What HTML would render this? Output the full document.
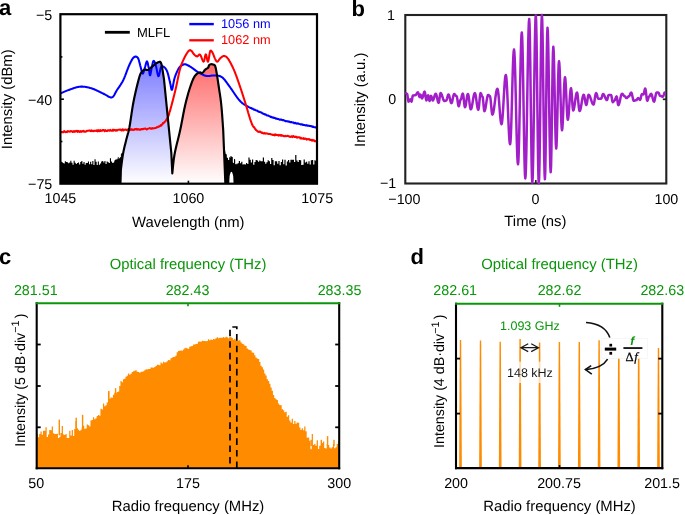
<!DOCTYPE html>
<html><head><meta charset="utf-8"><style>
html,body{margin:0;padding:0;background:#fff;}
svg{display:block;will-change:transform;}
text{font-family:"Liberation Sans", sans-serif;text-rendering:geometricPrecision;}
</style></head><body>
<svg width="685" height="515" viewBox="0 0 685 515">
<rect width="685" height="515" fill="#fff"/>
<defs>
<linearGradient id="gb" x1="0" y1="61" x2="0" y2="184" gradientUnits="userSpaceOnUse"><stop offset="0" stop-color="#7c7cff"/><stop offset="1" stop-color="#ffffff"/></linearGradient>
<linearGradient id="gr" x1="0" y1="64" x2="0" y2="184" gradientUnits="userSpaceOnUse"><stop offset="0" stop-color="#ff6a6a"/><stop offset="1" stop-color="#ffffff"/></linearGradient>
<clipPath id="ca"><rect x="60.4" y="14.2" width="256.6" height="169.5"/></clipPath>
</defs>
<g clip-path="url(#ca)">
<path d="M120.3 184 L120.7 171.3 L121 168.89 L121.41 165.47 L121.9 161.51 L122.45 157.53 L123 154 L123.58 150.97 L124.22 148.1 L124.88 145.34 L125.55 142.66 L126.2 140 L126.84 137.55 L127.47 135.33 L128.1 133.08 L128.74 130.52 L129.4 127.4 L130.08 123.46 L130.77 118.89 L131.48 114.04 L132.19 109.29 L132.9 105 L133.62 101.18 L134.35 97.58 L135.08 94.19 L135.8 91 L136.5 88 L137.18 85.14 L137.87 82.41 L138.53 79.91 L139.14 77.72 L139.7 75.9 L140.16 74.57 L140.54 73.68 L140.89 73.06 L141.26 72.55 L141.7 72 L142.21 71.38 L142.77 70.8 L143.36 70.29 L143.97 69.88 L144.6 69.6 L145.26 69.54 L145.97 69.67 L146.69 69.87 L147.38 70.02 L148 70 L148.54 69.78 L149.01 69.43 L149.45 69.01 L149.9 68.55 L150.4 68.1 L150.96 67.65 L151.55 67.16 L152.15 66.66 L152.74 66.16 L153.3 65.7 L153.81 65.26 L154.29 64.84 L154.76 64.44 L155.22 64.06 L155.7 63.7 L156.2 63.37 L156.72 63.05 L157.24 62.77 L157.74 62.51 L158.2 62.3 L158.63 62.11 L159.05 61.94 L159.43 61.81 L159.79 61.76 L160.1 61.8 L160.36 61.94 L160.57 62.16 L160.75 62.47 L160.92 62.85 L161.1 63.3 L161.27 63.71 L161.41 64.08 L161.57 64.59 L161.75 65.4 L162 66.7 L162.36 68.83 L162.82 71.68 L163.29 74.73 L163.71 77.44 L164 79.3 L171.3 152.9 L172.3 173.4 L172.3 184 L121.2 184 Z" fill="url(#gb)"/>
<path d="M172.3 173.4 L172.56 170.84 L172.9 167.26 L173.33 163.02 L173.89 158.48 L174.6 154 L175.52 149.51 L176.63 144.78 L177.84 139.89 L179.07 134.94 L180.2 130 L181.24 124.95 L182.24 119.74 L183.23 114.54 L184.21 109.57 L185.2 105 L186.21 100.83 L187.23 96.94 L188.24 93.33 L189.24 90.01 L190.2 87 L191.11 84.3 L191.98 81.91 L192.84 79.8 L193.7 77.97 L194.6 76.4 L195.56 75.12 L196.58 74.15 L197.6 73.42 L198.56 72.89 L199.4 72.5 L200.1 72.38 L200.7 72.57 L201.23 72.87 L201.75 73.08 L202.3 73 L202.88 72.55 L203.46 71.85 L204.03 71.05 L204.61 70.25 L205.2 69.6 L205.83 69.12 L206.49 68.72 L207.15 68.36 L207.73 68 L208.2 67.6 L208.5 67.12 L208.66 66.6 L208.76 66.08 L208.88 65.6 L209.1 65.2 L209.42 64.89 L209.8 64.63 L210.22 64.42 L210.66 64.28 L211.1 64.2 L211.57 64.2 L212.07 64.27 L212.59 64.39 L213.07 64.54 L213.5 64.7 L213.86 64.79 L214.17 64.83 L214.45 64.93 L214.72 65.18 L215 65.7 L215.27 66.4 L215.52 67.21 L215.77 68.25 L216.06 69.64 L216.4 71.5 L216.81 73.94 L217.28 76.88 L217.78 80.15 L218.3 83.58 L218.8 87 L219.3 90.33 L219.82 93.68 L220.34 97.18 L220.84 100.91 L221.3 105 L221.75 109.95 L222.19 115.7 L222.61 121.46 L222.95 126.49 L223.2 130 L225.3 182.5 L225.6 184 L172.3 184 Z" fill="url(#gr)"/>
<path d="M60.4 93.4 L61.43 92.96 L62.14 92.66 L62.85 92.35 L63.41 92.11 L63.97 91.87 L64.53 91.63 L65.14 91.38 L65.75 91.12 L66.36 90.87 L66.98 90.63 L67.6 90.38 L68.23 90.14 L68.82 89.92 L69.41 89.71 L70 89.5 L70.57 89.3 L71.14 89.1 L71.71 88.9 L72.3 88.7 L72.88 88.49 L73.46 88.28 L74.06 88.08 L74.65 87.89 L75.24 87.69 L75.85 87.52 L76.45 87.35 L77.05 87.17 L77.66 87.05 L78.26 86.92 L78.87 86.79 L79.48 86.73 L80.09 86.66 L80.7 86.6 L81.31 86.6 L81.93 86.6 L82.54 86.6 L83.16 86.65 L83.78 86.7 L84.4 86.74 L85.02 86.84 L85.64 86.93 L86.27 87.02 L86.9 87.16 L87.53 87.29 L88.16 87.42 L88.8 87.59 L89.43 87.75 L90.07 87.92 L90.71 88.11 L91.36 88.31 L92 88.5 L92.67 88.74 L93.34 88.99 L94.01 89.23 L94.7 89.54 L95.4 89.84 L96.1 90.14 L96.8 90.48 L97.51 90.82 L98.21 91.16 L98.9 91.5 L99.59 91.84 L100.28 92.19 L100.93 92.51 L101.58 92.84 L102.23 93.16 L102.82 93.44 L103.41 93.72 L104 94 L104.79 94.41 L105.59 94.81 L106.31 95.25 L107.04 95.69 L107.71 96.1 L108.38 96.51 L109 96.83 L109.63 97.14 L110.21 97.31 L110.79 97.48 L111.9 97.4 L112.9 96.82 L113.33 96.32 L113.77 95.82 L114.16 95.17 L114.56 94.52 L114.94 93.78 L115.32 93.04 L115.72 92.26 L116.12 91.49 L116.56 90.75 L117 90 L117.49 89.28 L117.98 88.56 L118.32 88.07 L118.67 87.57 L119.01 87.08 L119.37 86.57 L119.73 86.05 L120.08 85.54 L120.44 84.99 L120.79 84.45 L121.15 83.91 L121.5 83.33 L121.85 82.75 L122.2 82.17 L122.53 81.55 L122.87 80.92 L123.2 80.3 L123.52 79.6 L123.84 78.9 L124.16 78.19 L124.4 77.61 L124.64 77.02 L124.87 76.43 L125.11 75.85 L125.34 75.23 L125.57 74.62 L125.81 74.01 L126.04 73.39 L126.26 72.79 L126.49 72.18 L126.71 71.57 L126.93 70.96 L127.15 70.39 L127.36 69.83 L127.58 69.26 L127.79 68.69 L128.06 68.03 L128.33 67.36 L128.6 66.7 L128.85 66.12 L129.11 65.55 L129.36 64.97 L129.71 64.19 L130.07 63.4 L130.41 62.69 L130.74 61.98 L131.06 61.35 L131.39 60.72 L131.69 60.17 L132 59.63 L132.6 58.7 L133.17 57.96 L133.72 57.41 L134.24 57.02 L134.74 56.77 L135.22 56.64 L135.7 56.6 L136.17 56.64 L136.62 56.77 L137.06 57.03 L137.48 57.41 L137.9 57.97 L138.3 58.7 L138.69 59.69 L138.88 60.31 L139.06 60.94 L139.24 61.64 L139.43 62.34 L139.6 63.08 L139.78 63.82 L139.96 64.54 L140.14 65.27 L140.32 65.93 L140.5 66.6 L140.68 67.29 L140.87 67.97 L141.05 68.73 L141.23 69.49 L141.42 70.23 L141.6 70.97 L141.78 71.62 L141.97 72.27 L142.33 73.2 L142.7 73.6 L143.07 73.34 L143.44 72.54 L143.62 71.95 L143.81 71.37 L143.99 70.69 L144.17 70.02 L144.36 69.34 L144.54 68.67 L144.72 68.08 L144.9 67.5 L145.08 66.92 L145.26 66.33 L145.44 65.66 L145.62 64.98 L145.8 64.31 L145.98 63.63 L146.15 63.05 L146.33 62.46 L146.67 61.66 L147 61.4 L147.32 61.81 L147.64 62.77 L147.8 63.43 L147.95 64.09 L148.1 64.84 L148.25 65.59 L148.39 66.34 L148.53 67.09 L148.67 67.74 L148.8 68.4 L148.92 69.07 L149.04 69.74 L149.15 70.51 L149.25 71.29 L149.35 72.06 L149.45 72.83 L149.55 73.5 L149.65 74.16 L149.86 75.05 L150.1 75.3 L150.37 74.72 L150.52 74.08 L150.67 73.44 L150.82 72.59 L150.98 71.74 L151.08 71.11 L151.18 70.48 L151.29 69.86 L151.39 69.26 L151.5 68.66 L151.6 68.06 L151.75 67.33 L151.9 66.6 L152.04 65.98 L152.18 65.36 L152.32 64.73 L152.46 64.1 L152.59 63.52 L152.72 62.93 L153 61.94 L153.29 61.23 L153.6 60.9 L153.93 60.97 L154.28 61.38 L154.64 62.06 L155.02 62.98 L155.4 64.07 L155.6 64.69 L155.8 65.3 L156.01 66.13 L156.21 66.96 L156.36 67.69 L156.51 68.42 L156.65 69.14 L156.76 69.74 L156.88 70.33 L156.99 70.92 L157.1 71.51 L157.25 72.25 L157.4 72.98 L157.55 73.71 L157.77 74.55 L157.99 75.39 L158.4 76.2 L158.8 75.92 L159 75.35 L159.2 74.78 L159.39 73.95 L159.58 73.12 L159.7 72.51 L159.83 71.89 L159.95 71.28 L160.12 70.44 L160.29 69.59 L160.45 69 L160.6 68.4 L160.85 67.66 L161.03 67.11 L161.19 66.71 L161.37 66.44 L161.59 66.28 L161.9 66.2 L162.32 66.22 L162.82 66.36 L163.37 66.61 L163.94 66.96 L164.49 67.39 L165 67.9 L165.46 68.45 L165.9 69.06 L166.33 69.75 L166.75 70.56 L167.17 71.53 L167.39 72.12 L167.6 72.7 L167.82 73.43 L168.04 74.17 L168.19 74.75 L168.35 75.34 L168.5 75.92 L168.65 76.56 L168.8 77.2 L168.95 77.84 L169.1 78.48 L169.25 79.13 L169.39 79.78 L169.53 80.39 L169.67 81 L169.81 81.61 L170.01 82.4 L170.2 83.2 L170.37 83.97 L170.54 84.74 L170.68 85.55 L170.83 86.37 L170.96 87.13 L171.1 87.89 L171.24 88.5 L171.37 89.11 L171.66 89.81 L172 89.8 L172.37 88.88 L172.56 88.02 L172.74 87.16 L172.88 86.42 L173.01 85.67 L173.14 84.93 L173.25 84.32 L173.36 83.7 L173.47 83.09 L173.58 82.47 L173.7 81.87 L173.82 81.27 L173.94 80.67 L174.06 80.07 L174.24 79.38 L174.42 78.69 L174.6 78 L174.81 77.39 L175.01 76.78 L175.22 76.16 L175.45 75.55 L175.68 74.93 L175.91 74.32 L176.16 73.72 L176.41 73.12 L176.66 72.52 L176.91 71.97 L177.16 71.41 L177.42 70.85 L177.8 70.1 L178.18 69.35 L178.54 68.73 L178.9 68.1 L179.25 67.61 L179.61 67.12 L180.32 66.37 L181.03 65.79 L181.72 65.36 L182.38 65.01 L183 64.7 L183.54 64.45 L184 64.29 L184.44 64.22 L184.89 64.23 L185.39 64.33 L186 64.5 L186.7 64.75 L187.45 65.09 L188.26 65.5 L189.13 65.99 L190.08 66.56 L190.59 66.88 L191.1 67.2 L191.67 67.58 L192.23 67.97 L192.85 68.42 L193.47 68.87 L194.13 69.37 L194.78 69.86 L195.46 70.35 L196.13 70.85 L196.81 71.32 L197.48 71.78 L198.14 72.19 L198.8 72.6 L199.45 72.96 L200.09 73.33 L200.74 73.68 L201.39 74.03 L202.04 74.35 L202.69 74.67 L203.35 74.96 L204 75.24 L204.65 75.46 L205.3 75.69 L205.95 75.84 L206.6 76 L207.25 76.05 L207.9 76.1 L208.55 76.05 L209.2 76 L209.85 75.9 L210.51 75.79 L211.16 75.68 L211.81 75.56 L212.46 75.48 L213.11 75.4 L213.75 75.4 L214.4 75.4 L215.05 75.44 L215.69 75.49 L216.33 75.53 L216.98 75.57 L217.62 75.65 L218.26 75.73 L218.9 75.87 L219.54 76.02 L220.18 76.27 L220.82 76.52 L221.46 76.91 L222.1 77.3 L222.72 77.84 L223.35 78.38 L223.75 78.83 L224.16 79.28 L224.56 79.72 L224.97 80.24 L225.37 80.75 L225.77 81.27 L226.19 81.84 L226.6 82.41 L227.01 82.98 L227.45 83.59 L227.88 84.19 L228.31 84.8 L228.78 85.44 L229.24 86.07 L229.7 86.7 L230.08 87.23 L230.46 87.76 L230.84 88.28 L231.22 88.81 L231.62 89.41 L232.03 90.01 L232.44 90.61 L232.85 91.21 L233.19 91.71 L233.52 92.21 L233.86 92.71 L234.2 93.22 L234.54 93.72 L234.96 94.33 L235.38 94.95 L235.81 95.57 L236.23 96.18 L236.64 96.74 L237.05 97.31 L237.46 97.87 L237.87 98.43 L238.25 98.9 L238.63 99.37 L239.02 99.83 L239.4 100.3 L239.86 100.78 L240.31 101.26 L240.77 101.73 L241.38 102.3 L242 102.86 L242.59 103.31 L243.18 103.76 L243.79 104.16 L244.39 104.56 L245.05 104.95 L245.7 105.33 L246.45 105.77 L247.2 106.2 L247.76 106.51 L248.33 106.82 L248.89 107.12 L249.5 107.42 L250.1 107.7 L250.71 107.95 L251.35 108.1 L252 108.83 L252.64 108.61 L253.31 109.2 L253.98 109.73 L254.64 109.54 L255.33 110.12 L256.02 110.45 L256.71 110.41 L257.4 110.92 L258.1 111.42 L258.8 111.57 L259.51 112.06 L260.22 112.04 L260.93 112.41 L261.47 112.58 L262.02 113.07 L262.57 113.57 L263.11 113.62 L263.67 113.98 L264.23 114 L264.79 114.48 L265.35 114.34 L265.92 114.71 L266.5 115.18 L267.07 115.46 L267.64 115.53 L268.23 115.57 L268.82 115.91 L269.41 116.12 L269.99 116.4 L270.6 116.93 L271.2 116.78 L271.8 117.41 L272.4 117.63 L272.98 117.32 L273.56 117.71 L274.15 117.96 L274.73 117.87 L275.47 118.33 L276.21 118.84 L276.96 118.59 L277.72 119.08 L278.48 119 L279.24 119.48 L279.86 119.82 L280.49 119.56 L281.11 119.6 L281.73 119.8 L282.45 120.24 L283.17 120.09 L283.88 120.3 L284.6 120.72 L285.28 121.13 L285.96 120.98 L286.64 121.13 L287.32 121.43 L288 121.26 L288.63 121.69 L289.26 121.58 L289.88 121.98 L290.51 122.33 L291.14 121.93 L291.77 122.37 L292.39 122.54 L292.99 122.39 L293.58 122.59 L294.18 123.15 L294.77 123.28 L295.37 122.88 L295.96 123.35 L296.56 123.63 L297.15 123.33 L297.75 123.68 L298.38 123.47 L299.02 123.8 L299.66 124.11 L300.29 124.2 L300.93 124.44 L301.57 124.16 L302.2 124.45 L302.84 124.89 L303.48 124.86 L304.09 124.9 L304.7 125 L305.31 125.48 L305.92 125.36 L306.54 125.15 L307.15 125.74 L307.76 125.59 L308.37 125.78 L308.99 125.77 L309.57 126.03 L310.16 126.08 L310.75 126.06 L311.34 126.51 L311.93 126.31 L312.51 126.84 L313.1 126.51 L313.69 127.08 L314.35 127.24 L315.01 127.19 L315.68 127.45 L316.34 127.31 L317 127.74" fill="none" stroke="#0000ff" stroke-width="2.05" stroke-linejoin="round"/>
<path d="M60.4 131.95 L61.02 132.07 L61.64 132.12 L62.26 132.28 L62.88 132.02 L63.5 132.23 L64.19 131.14 L64.89 131.64 L65.58 132.2 L66.28 131.83 L66.98 132.11 L67.67 131.15 L68.3 131.56 L68.92 131.28 L69.55 131.62 L70.17 131.64 L70.8 130.95 L71.42 131.18 L72.05 131.24 L72.67 131.99 L73.29 131.79 L73.91 131.05 L74.53 131.8 L75.15 130.99 L75.77 131.55 L76.38 130.94 L77 130.78 L77.62 131.8 L78.24 130.99 L78.89 130.98 L79.54 131.88 L80.19 131.73 L80.84 131.02 L81.49 131.8 L82.15 131.28 L82.8 131.43 L83.45 130.84 L84.1 131.71 L84.75 131.39 L85.41 131.7 L86.07 131.59 L86.72 130.86 L87.38 130.91 L88.03 130.66 L88.69 130.61 L89.34 130.5 L90 130.76 L90.63 131.1 L91.27 130.36 L91.9 131.15 L92.54 130.73 L93.17 130.67 L93.8 131.26 L94.44 130.84 L95.07 130.62 L95.7 130.8 L96.34 131.04 L96.98 130.25 L97.62 131.33 L98.27 130.16 L98.91 131.02 L99.55 131.11 L100.19 130.1 L100.83 131 L101.48 130.47 L102.12 130.71 L102.76 130 L103.4 130.03 L104.02 130.17 L104.63 131.08 L105.24 130.14 L105.86 130.8 L106.47 130.98 L107.09 130.98 L107.7 130.24 L108.31 130.23 L108.93 130.42 L109.54 130.7 L110.15 129.88 L110.77 130.62 L111.37 130.66 L111.98 130.71 L112.58 129.71 L113.18 130.78 L113.78 129.73 L114.39 130.01 L114.99 130.31 L115.59 130.66 L116.2 129.94 L116.8 130.62 L117.4 130.15 L118.01 129.85 L118.62 129.83 L119.22 129.64 L119.83 129.5 L120.44 129.56 L121.05 130.19 L121.65 130.54 L122.26 129.51 L122.87 129.35 L123.48 130.46 L124.09 129.89 L124.69 129.72 L125.33 129.49 L125.96 129.89 L126.6 130.14 L127.23 129.67 L127.86 129.61 L128.5 129.14 L129.13 130.15 L129.77 129.06 L130.4 129.59 L131.07 129.98 L131.75 129.1 L132.42 129.79 L133.09 130.02 L133.77 129.61 L134.44 129.77 L135.11 128.93 L135.79 129.29 L136.46 128.92 L137.14 129.72 L137.82 129.03 L138.49 129.19 L139.17 129.81 L139.87 129.6 L140.57 129.72 L141.27 129.05 L141.97 129.06 L142.67 129.31 L143.28 128.98 L143.89 128.71 L144.5 128.81 L145.11 128.46 L145.72 128.7 L146.4 129.39 L147.08 129.3 L147.75 128.85 L148.43 128.64 L149.05 128.39 L149.67 128.03 L150.28 128.19 L150.9 128.74 L151.6 128.76 L152.29 128.07 L152.99 128.49 L153.79 128.36 L154.59 128.14 L155.22 127.98 L155.84 127.96 L156.9 127.17 L157.9 127.17 L158.45 126.4 L159 126.38 L159.58 126.4 L160.17 125.98 L160.73 125.14 L161.29 125.55 L161.82 124.78 L162.35 124.28 L162.85 123.14 L163.36 123.33 L163.83 122.48 L164.31 122.48 L164.76 121.69 L165.2 121.58 L165.59 120.87 L165.98 120.54 L166.64 119.07 L167.25 118.4 L167.55 117.88 L167.86 117.36 L168.08 116.22 L168.3 116.25 L168.52 115.72 L168.71 114.93 L168.91 114.71 L169.1 114.12 L169.3 113.02 L169.49 112.43 L169.67 111.38 L169.86 111.58 L170.05 110.57 L170.23 109.96 L170.41 109.34 L170.58 108.72 L170.75 108.11 L170.93 107.49 L171.1 106.87 L171.27 106.25 L171.43 105.66 L171.59 105.07 L171.75 104.48 L171.9 103.89 L172.06 103.3 L172.22 102.71 L172.38 102.12 L172.53 101.51 L172.69 100.9 L172.85 100.28 L173.01 99.67 L173.17 99.05 L173.32 98.44 L173.48 97.83 L173.63 97.22 L173.78 96.62 L173.94 96.02 L174.09 95.41 L174.24 94.81 L174.39 94.21 L174.54 93.6 L174.7 92.95 L174.86 92.3 L175.02 91.65 L175.18 91 L175.34 90.35 L175.5 89.7 L175.64 89.08 L175.78 88.47 L175.92 87.85 L176.07 87.24 L176.21 86.62 L176.35 86 L176.48 85.38 L176.61 84.76 L176.74 84.15 L176.87 83.53 L177 82.91 L177.13 82.29 L177.25 81.68 L177.37 81.08 L177.5 80.47 L177.62 79.86 L177.74 79.26 L177.86 78.65 L178 77.96 L178.15 77.26 L178.29 76.57 L178.43 75.87 L178.57 75.18 L178.71 74.53 L178.85 73.89 L178.99 73.25 L179.13 72.61 L179.28 71.96 L179.46 71.25 L179.64 70.53 L179.82 69.82 L180 69.1 L180.18 68.48 L180.37 67.86 L180.55 67.25 L180.74 66.63 L180.98 65.91 L181.23 65.2 L181.47 64.49 L181.72 63.86 L181.96 63.23 L182.21 62.6 L182.45 62.03 L182.69 61.47 L182.94 60.9 L183.3 60.12 L183.67 59.33 L184.03 58.56 L184.4 57.8 L184.78 57.05 L185.15 56.3 L185.54 55.6 L185.93 54.89 L186.32 54.24 L186.71 53.59 L187.09 53.02 L187.47 52.46 L188.17 51.51 L188.8 50.8 L189.34 50.35 L189.8 50.15 L190.21 50.14 L190.6 50.28 L190.99 50.52 L191.4 50.8 L191.83 51.2 L192.25 51.76 L192.67 52.42 L193.1 53.11 L193.54 53.76 L194 54.3 L194.49 54.77 L195 55.24 L195.53 55.67 L196.06 56.03 L196.58 56.29 L197.1 56.4 L197.6 56.24 L198.09 55.79 L198.57 55.24 L199.07 54.76 L199.57 54.52 L200.1 54.7 L200.67 55.53 L200.97 56.23 L201.28 56.92 L201.59 57.74 L201.9 58.56 L202.21 59.33 L202.51 60.11 L202.8 60.69 L203.09 61.27 L203.6 61.7 L204.04 61.13 L204.24 60.44 L204.43 59.75 L204.55 59.16 L204.66 58.57 L204.78 57.98 L204.89 57.38 L205 56.79 L205.11 56.2 L205.28 55.52 L205.45 54.84 L205.8 54.3 L206.17 54.88 L206.35 55.61 L206.53 56.33 L206.66 56.95 L206.78 57.57 L206.9 58.19 L207.02 58.8 L207.14 59.41 L207.27 60.01 L207.45 60.67 L207.63 61.33 L208 61.7 L208.37 60.85 L208.55 59.97 L208.73 59.09 L208.86 58.34 L208.98 57.58 L209.1 56.83 L209.22 56.05 L209.34 55.27 L209.47 54.49 L209.59 53.82 L209.71 53.15 L209.83 52.47 L210.02 51.84 L210.2 51.2 L210.56 50.68 L210.92 50.58 L211.27 50.81 L211.64 51.27 L212.01 51.87 L212.4 52.5 L212.81 53.27 L213.25 54.29 L213.48 54.86 L213.7 55.44 L213.92 56.02 L214.15 56.61 L214.59 57.7 L215 58.6 L215.38 59.37 L215.73 60.1 L216.07 60.75 L216.41 61.27 L216.79 61.6 L217.2 61.7 L217.66 61.48 L218.15 60.97 L218.67 60.28 L219.2 59.51 L219.75 58.78 L220.3 58.2 L220.86 57.71 L221.44 57.22 L222.03 56.77 L222.62 56.39 L223.21 56.12 L223.8 56 L224.38 56.02 L224.96 56.15 L225.54 56.39 L226.12 56.74 L226.71 57.21 L227.3 57.8 L227.9 58.53 L228.51 59.39 L229.12 60.37 L229.43 60.91 L229.74 61.44 L230.05 62.02 L230.36 62.6 L230.68 63.2 L231 63.8 L231.32 64.42 L231.64 65.03 L231.96 65.67 L232.27 66.3 L232.6 66.98 L232.92 67.65 L233.25 68.38 L233.58 69.11 L233.93 69.91 L234.27 70.71 L234.51 71.31 L234.76 71.9 L235 72.5 L235.26 73.17 L235.52 73.84 L235.77 74.5 L236.04 75.24 L236.31 75.97 L236.59 76.7 L236.8 77.29 L237.01 77.87 L237.22 78.46 L237.42 79.04 L237.64 79.66 L237.85 80.27 L238.07 80.88 L238.28 81.49 L238.5 82.11 L238.71 82.74 L238.93 83.36 L239.14 83.99 L239.36 84.62 L239.57 85.24 L239.79 85.87 L240 86.5 L240.21 87.13 L240.42 87.76 L240.64 88.39 L240.85 89.02 L241.06 89.66 L241.27 90.3 L241.48 90.93 L241.7 91.57 L241.91 92.23 L242.12 92.88 L242.34 93.53 L242.55 94.19 L242.77 94.86 L242.98 95.53 L243.2 96.2 L243.41 96.87 L243.64 97.56 L243.86 98.25 L244.08 98.95 L244.3 99.64 L244.48 100.21 L244.66 100.78 L244.84 101.35 L245.02 101.93 L245.2 102.5 L245.39 103.13 L245.58 103.75 L245.77 104.38 L245.96 105.01 L246.15 105.63 L246.35 106.32 L246.55 107 L246.75 107.69 L246.95 108.37 L247.16 109.06 L247.33 109.64 L247.5 110.22 L247.67 110.81 L247.84 111.39 L248.01 111.98 L248.17 112.56 L248.38 113.24 L248.58 113.92 L248.78 114.59 L248.98 115.27 L249.18 115.94 L249.37 116.55 L249.56 117.16 L249.75 117.77 L249.94 118.38 L250.13 118.99 L250.35 119.62 L250.57 120.25 L250.78 120.87 L251 121.5 L251.26 122.13 L251.51 122.77 L251.77 123.4 L252.12 124.66 L252.46 124.83 L252.78 125.65 L253.11 126.24 L253.73 127.16 L254.35 127.29 L255 128.84 L255.59 129.37 L256.09 130.09 L256.59 130.32 L257.19 131.03 L257.99 131.66 L258.55 131.73 L259.1 132.06 L259.76 131.48 L260.42 131.88 L261.13 132.45 L261.84 132.93 L262.66 132.64 L263.48 133.42 L264.12 133.5 L264.76 132.94 L265.4 133.6 L266.17 133.45 L266.94 133.39 L267.71 133.63 L268.41 133.96 L269.11 133.9 L269.8 134.02 L270.5 133.94 L271.19 134.54 L271.88 134.52 L272.58 134.88 L273.27 134.93 L273.96 134.59 L274.64 135.45 L275.32 134.43 L276.01 134.98 L276.69 134.89 L277.37 135.11 L278.06 134.82 L278.7 135.73 L279.34 135.24 L279.98 134.88 L280.62 135.63 L281.26 135.06 L281.9 135.65 L282.54 135.46 L283.2 135.8 L283.86 136.31 L284.52 136.2 L285.18 135.78 L285.84 136.3 L286.5 136.16 L287.16 135.88 L287.8 135.67 L288.44 136.28 L289.09 136.31 L289.73 136.84 L290.37 136.92 L291.02 136.55 L291.66 136.3 L292.35 137.04 L293.04 136.06 L293.73 136.27 L294.42 136.91 L295.11 137.05 L295.8 136.57 L296.47 137.27 L297.14 137.69 L297.81 137.18 L298.48 137.36 L299.15 137.22 L299.82 137.41 L300.41 138.34 L301 137.75 L301.59 138.56 L302.18 138.61 L302.77 138.35 L303.36 138.06 L303.96 139.04 L304.63 138.6 L305.3 138.64 L305.97 138.67 L306.64 139.61 L307.31 139.16 L307.98 139.05 L308.59 139.41 L309.21 139.12 L309.82 139.86 L310.43 139.78 L311.04 139.73 L311.66 140.46 L312.27 140.65 L312.89 139.81 L313.51 140.57 L314.12 140.4 L314.74 141.33 L315.49 141.31 L316.25 140.83 L317 141.02" fill="none" stroke="#ff0000" stroke-width="2.05" stroke-linejoin="round"/>
<path d="M60.4 184 L60.4 161.48 L61.5 161.48 L61.5 162.09 L62.6 162.09 L62.6 162.89 L63.7 162.89 L63.7 163.46 L64.8 163.46 L64.8 161.32 L65.9 161.32 L65.9 162.12 L67 162.12 L67 162.28 L68.1 162.28 L68.1 163.13 L69.2 163.13 L69.2 162.39 L70.3 162.39 L70.3 160.64 L71.4 160.64 L71.4 162.8 L72.5 162.8 L72.5 164.71 L73.6 164.71 L73.6 160.86 L74.7 160.86 L74.7 162.68 L75.8 162.68 L75.8 163.92 L76.9 163.92 L76.9 162.92 L78 162.92 L78 162.5 L79.1 162.5 L79.1 164.55 L80.2 164.55 L80.2 162.1 L81.3 162.1 L81.3 161.09 L82.4 161.09 L82.4 163.86 L83.5 163.86 L83.5 162.06 L84.6 162.06 L84.6 164.81 L85.7 164.81 L85.7 162.91 L86.8 162.91 L86.8 162.99 L87.9 162.99 L87.9 161.48 L89 161.48 L89 164.37 L90.1 164.37 L90.1 161.81 L91.2 161.81 L91.2 164.28 L92.3 164.28 L92.3 160.91 L93.4 160.91 L93.4 165.11 L94.5 165.11 L94.5 159.36 L95.6 159.36 L95.6 161.76 L96.7 161.76 L96.7 164.99 L97.8 164.99 L97.8 161.39 L98.9 161.39 L98.9 164.84 L100 164.84 L100 163.49 L101.1 163.49 L101.1 161.51 L102.2 161.51 L102.2 160.99 L103.3 160.99 L103.3 162.47 L104.4 162.47 L104.4 161.05 L105.5 161.05 L105.5 164.07 L106.6 164.07 L106.6 161.39 L107.7 161.39 L107.7 162.18 L108.8 162.18 L108.8 162.95 L109.9 162.95 L109.9 158.35 L111 158.35 L111 161.46 L112.1 161.46 L112.1 163.03 L113.2 162.85 L113.2 163.06 L114.3 162.07 L114.3 160.79 L115.4 159.8 L115.4 159.76 L116.5 158.77 L116.5 159.92 L117.6 158.93 L117.6 157.69 L118.7 156.7 L118.7 158.91 L119.8 157.92 L119.8 157.82 L120.9 156.83 L120.9 154.07 L122 153.08 L121.2 184 Z" fill="#000"/>
<path d="M225 184 L225 150 L225.6 153.85 L226.8 154.45 L226.8 157.46 L228 158.06 L228 159.76 L229.2 160.36 L229.2 157.04 L230.4 157.64 L230.4 155.88 L231.6 156.48 L231.6 156.62 L232.8 157.22 L232.8 162.61 L234 163.21 L234 158.84 L235.2 159.44 L235.2 163.94 L236.4 164.54 L236.4 163.62 L237.6 164.22 L237.6 163.05 L238.8 163.25 L238.8 160.91 L240 160.91 L240 163.18 L241.2 163.18 L241.2 161.81 L242.4 161.81 L242.4 164.49 L243.6 164.49 L243.6 164.33 L244.8 164.33 L244.8 164.61 L246 164.61 L246 163.06 L247.2 163.06 L247.2 163.94 L248.4 163.94 L248.4 157.47 L249.6 157.47 L249.6 159.74 L250.8 159.74 L250.8 162.39 L252 162.39 L252 159.5 L253.2 159.5 L253.2 164.84 L254.4 164.84 L254.4 162.07 L255.6 162.07 L255.6 160.1 L256.8 160.1 L256.8 160.45 L258 160.45 L258 161.81 L259.2 161.81 L259.2 160.41 L260.4 160.41 L260.4 161.16 L261.6 161.16 L261.6 161.22 L262.8 161.22 L262.8 157.62 L264 157.62 L264 161.71 L265.2 161.71 L265.2 163.63 L266.4 163.63 L266.4 162.33 L267.6 162.33 L267.6 160.21 L268.8 160.21 L268.8 161.25 L270 161.25 L270 163.88 L271.2 163.88 L271.2 158.01 L272.4 158.01 L272.4 159.97 L273.6 159.97 L273.6 165.34 L274.8 165.34 L274.8 161.37 L276 161.37 L276 161.2 L277.2 161.2 L277.2 163.81 L278.4 163.81 L278.4 160.94 L279.6 160.94 L279.6 165.14 L280.8 165.14 L280.8 162.08 L282 162.08 L282 159.54 L283.2 159.54 L283.2 164.18 L284.4 164.18 L284.4 159.77 L285.6 159.77 L285.6 165.44 L286.8 165.44 L286.8 161.6 L288 161.6 L288 159.93 L289.2 159.93 L289.2 162.45 L290.4 162.45 L290.4 159.82 L291.6 159.82 L291.6 159.8 L292.8 159.8 L292.8 159.86 L294 159.86 L294 161.94 L295.2 161.94 L295.2 154.89 L296.4 154.89 L296.4 160.58 L297.6 160.58 L297.6 161.91 L298.8 161.91 L298.8 160.01 L300 160.01 L300 160.15 L301.2 160.15 L301.2 165.03 L302.4 165.03 L302.4 164.64 L303.6 164.64 L303.6 159.6 L304.8 159.6 L304.8 162.42 L306 162.42 L306 161.76 L307.2 161.76 L307.2 163.85 L308.4 163.85 L308.4 161.35 L309.6 161.35 L309.6 164.46 L310.8 164.46 L310.8 160.19 L312 160.19 L312 160.03 L313.2 160.03 L313.2 164.42 L314.4 164.42 L314.4 160.28 L315.6 160.28 L315.6 160.97 L316.8 160.97 L316.8 162.07 L318 162.07 L317 184 Z" fill="#000"/>
<path d="M229.2 184 L229.6 176 Q231.4 167.5 233.2 176 L233.6 184 Z" fill="#fff"/>
<path d="M120.3 184 L120.7 171.3 L121 168.89 L121.41 165.47 L121.9 161.51 L122.45 157.53 L123 154 L123.58 150.97 L124.22 148.1 L124.88 145.34 L125.55 142.66 L126.2 140 L126.84 137.55 L127.47 135.33 L128.1 133.08 L128.74 130.52 L129.4 127.4 L130.08 123.46 L130.77 118.89 L131.48 114.04 L132.19 109.29 L132.9 105 L133.62 101.18 L134.35 97.58 L135.08 94.19 L135.8 91 L136.5 88 L137.18 85.14 L137.87 82.41 L138.53 79.91 L139.14 77.72 L139.7 75.9 L140.16 74.57 L140.54 73.68 L140.89 73.06 L141.26 72.55 L141.7 72 L142.21 71.38 L142.77 70.8 L143.36 70.29 L143.97 69.88 L144.6 69.6 L145.26 69.54 L145.97 69.67 L146.69 69.87 L147.38 70.02 L148 70 L148.54 69.78 L149.01 69.43 L149.45 69.01 L149.9 68.55 L150.4 68.1 L150.96 67.65 L151.55 67.16 L152.15 66.66 L152.74 66.16 L153.3 65.7 L153.81 65.26 L154.29 64.84 L154.76 64.44 L155.22 64.06 L155.7 63.7 L156.2 63.37 L156.72 63.05 L157.24 62.77 L157.74 62.51 L158.2 62.3 L158.63 62.11 L159.05 61.94 L159.43 61.81 L159.79 61.76 L160.1 61.8 L160.36 61.94 L160.57 62.16 L160.75 62.47 L160.92 62.85 L161.1 63.3 L161.27 63.71 L161.41 64.08 L161.57 64.59 L161.75 65.4 L162 66.7 L162.36 68.83 L162.82 71.68 L163.29 74.73 L163.71 77.44 L164 79.3 L171.3 152.9 L172.3 173.4 L172.56 170.84 L172.9 167.26 L173.33 163.02 L173.89 158.48 L174.6 154 L175.52 149.51 L176.63 144.78 L177.84 139.89 L179.07 134.94 L180.2 130 L181.24 124.95 L182.24 119.74 L183.23 114.54 L184.21 109.57 L185.2 105 L186.21 100.83 L187.23 96.94 L188.24 93.33 L189.24 90.01 L190.2 87 L191.11 84.3 L191.98 81.91 L192.84 79.8 L193.7 77.97 L194.6 76.4 L195.56 75.12 L196.58 74.15 L197.6 73.42 L198.56 72.89 L199.4 72.5 L200.1 72.38 L200.7 72.57 L201.23 72.87 L201.75 73.08 L202.3 73 L202.88 72.55 L203.46 71.85 L204.03 71.05 L204.61 70.25 L205.2 69.6 L205.83 69.12 L206.49 68.72 L207.15 68.36 L207.73 68 L208.2 67.6 L208.5 67.12 L208.66 66.6 L208.76 66.08 L208.88 65.6 L209.1 65.2 L209.42 64.89 L209.8 64.63 L210.22 64.42 L210.66 64.28 L211.1 64.2 L211.57 64.2 L212.07 64.27 L212.59 64.39 L213.07 64.54 L213.5 64.7 L213.86 64.79 L214.17 64.83 L214.45 64.93 L214.72 65.18 L215 65.7 L215.27 66.4 L215.52 67.21 L215.77 68.25 L216.06 69.64 L216.4 71.5 L216.81 73.94 L217.28 76.88 L217.78 80.15 L218.3 83.58 L218.8 87 L219.3 90.33 L219.82 93.68 L220.34 97.18 L220.84 100.91 L221.3 105 L221.75 109.95 L222.19 115.7 L222.61 121.46 L222.95 126.49 L223.2 130 L225.3 182.5 L225.6 184" fill="none" stroke="#000" stroke-width="2.15" stroke-linejoin="round"/>
</g>
<rect x="60.4" y="14.2" width="256.6" height="169.5" fill="none" stroke="#000" stroke-width="2.2"/>
<line x1="60.4" y1="56.9" x2="62.4" y2="56.9" stroke="#000" stroke-width="1.6"/>
<line x1="60.4" y1="99.2" x2="63.9" y2="99.2" stroke="#000" stroke-width="1.6"/>
<line x1="60.4" y1="141.5" x2="62.4" y2="141.5" stroke="#000" stroke-width="1.6"/>
<line x1="188.4" y1="183.7" x2="188.4" y2="180.7" stroke="#000" stroke-width="1.6"/>
<text x="52.3" y="19.9" font-size="14.3" text-anchor="end" fill="#000" font-weight="normal" >−5</text>
<text x="52.3" y="104.6" font-size="14.3" text-anchor="end" fill="#000" font-weight="normal" >−40</text>
<text x="52.3" y="189.2" font-size="14.3" text-anchor="end" fill="#000" font-weight="normal" >−75</text>
<text x="60.4" y="203" font-size="14.3" text-anchor="middle" fill="#000" font-weight="normal" >1045</text>
<text x="188.4" y="203" font-size="14.3" text-anchor="middle" fill="#000" font-weight="normal" >1060</text>
<text x="317.2" y="203" font-size="14.3" text-anchor="middle" fill="#000" font-weight="normal" >1075</text>
<text x="188.3" y="226.6" font-size="14.85" text-anchor="middle" fill="#000" font-weight="normal" >Wavelength (nm)</text>
<text transform="translate(12.1 149.2) rotate(-90)" font-size="14.85" fill="#000" text-anchor="start">Intensity (dBm)</text>
<text x="-1" y="15.4" font-size="22" text-anchor="start" fill="#000" font-weight="bold" >a</text>
<line x1="104.9" y1="32.3" x2="129.8" y2="32.3" stroke="#000" stroke-width="2.8"/>
<text x="137" y="36.9" font-size="13.0" text-anchor="start" fill="#000" font-weight="normal" >MLFL</text>
<line x1="189.3" y1="24.1" x2="213.8" y2="24.1" stroke="#0000ff" stroke-width="2.4"/>
<text x="221" y="27.5" font-size="12.75" text-anchor="start" fill="#0000ff" font-weight="normal" >1056 nm</text>
<line x1="189.3" y1="40.3" x2="213.8" y2="40.3" stroke="#ff0000" stroke-width="2.3"/>
<text x="221" y="44.2" font-size="12.75" text-anchor="start" fill="#ff0000" font-weight="normal" >1062 nm</text>
<rect x="405.3" y="15.0" width="260.99999999999994" height="168.5" fill="none" stroke="#222" stroke-width="2.1"/>
<line x1="535.8" y1="183.5" x2="535.8" y2="180.0" stroke="#222" stroke-width="1.7"/>
<line x1="666.3" y1="99.3" x2="662.8" y2="99.3" stroke="#222" stroke-width="1.7"/>
<path d="M405.3 92.8 L405.66 92.91 L406.02 93.21 L406.38 93.59 L406.74 93.89 L407.1 94 L407.45 95.11 L407.8 97.8 L408.15 100.49 L408.5 101.6 L408.86 101.38 L409.22 100.81 L409.58 100.09 L409.94 99.52 L410.3 99.3 L410.7 99.88 L411.1 101.02 L411.5 101.6 L411.85 100.71 L412.2 98.55 L412.55 96.39 L412.9 95.5 L413.24 95.49 L413.59 95.44 L413.93 95.38 L414.27 95.32 L414.61 95.26 L414.96 95.21 L415.3 95.2 L415.67 95.06 L416.04 94.65 L416.41 94.07 L416.79 93.43 L417.16 92.85 L417.53 92.44 L417.9 92.3 L418.24 92.74 L418.58 93.89 L418.92 95.31 L419.26 96.46 L419.6 96.9 L420.05 95.75 L420.5 94.6 L420.88 95.16 L421.25 96.5 L421.62 97.84 L422 98.4 L422.37 98.07 L422.74 97.14 L423.11 95.8 L423.49 94.3 L423.86 92.96 L424.23 92.03 L424.6 91.7 L424.96 92.53 L425.32 94.71 L425.68 97.39 L426.04 99.57 L426.4 100.4 L426.74 99.9 L427.08 98.6 L427.42 97 L427.76 95.7 L428.1 95.2 L428.48 96.05 L428.85 98.1 L429.23 100.15 L429.6 101 L429.95 100.24 L430.3 98.4 L430.65 96.56 L431 95.8 L431.36 96.24 L431.72 97.39 L432.08 98.81 L432.44 99.96 L432.8 100.4 L433.16 100.14 L433.52 99.42 L433.89 98.33 L434.25 97.05 L434.61 95.77 L434.98 94.68 L435.34 93.96 L435.7 93.7 L436.06 94.05 L436.43 95.03 L436.79 96.51 L437.15 98.25 L437.51 99.99 L437.88 101.47 L438.24 102.45 L438.6 102.8 L438.93 102.15 L439.27 100.38 L439.6 97.95 L439.93 95.52 L440.27 93.75 L440.6 93.1 L440.95 93.26 L441.29 93.73 L441.64 94.46 L441.98 95.41 L442.33 96.49 L442.67 97.61 L443.02 98.69 L443.36 99.64 L443.71 100.37 L444.05 100.84 L444.4 101 L444.74 100.96 L445.08 100.86 L445.42 100.74 L445.76 100.64 L446.1 100.6 L446.44 100.3 L446.79 99.45 L447.13 98.23 L447.47 96.87 L447.81 95.65 L448.16 94.8 L448.5 94.5 L448.86 94.83 L449.23 95.77 L449.59 97.19 L449.95 98.85 L450.31 100.51 L450.67 101.93 L451.04 102.87 L451.4 103.2 L451.75 102.85 L452.1 101.85 L452.45 100.36 L452.8 98.6 L453.15 96.84 L453.5 95.35 L453.85 94.35 L454.2 94 L454.54 94.11 L454.89 94.41 L455.23 94.86 L455.57 95.34 L455.91 95.79 L456.26 96.09 L456.6 96.2 L456.95 96.88 L457.3 98.72 L457.65 101.25 L458 103.77 L458.35 105.62 L458.7 106.3 L459.08 105.67 L459.46 104.02 L459.84 101.98 L460.22 100.33 L460.6 99.7 L460.97 99.29 L461.33 98.17 L461.7 96.65 L462.07 95.12 L462.43 94.01 L462.8 93.6 L463.17 94.51 L463.53 97 L463.9 100.4 L464.27 103.8 L464.63 106.29 L465 107.2 L465.36 106.7 L465.73 105.27 L466.09 103.13 L466.45 100.6 L466.81 98.07 L467.17 95.93 L467.54 94.5 L467.9 94 L468.26 94.58 L468.62 96.24 L468.99 98.72 L469.35 101.65 L469.71 104.58 L470.07 107.06 L470.44 108.72 L470.8 109.3 L471.13 109.02 L471.47 108.21 L471.8 106.93 L472.13 105.25 L472.47 103.3 L472.8 101.2 L473.13 99.1 L473.47 97.15 L473.8 95.47 L474.13 94.19 L474.47 93.38 L474.8 93.1 L475.15 93.51 L475.5 94.69 L475.85 96.54 L476.2 98.87 L476.55 101.45 L476.9 104.03 L477.25 106.36 L477.6 108.21 L477.95 109.39 L478.3 109.8 L478.68 108.68 L479.07 105.62 L479.45 101.45 L479.83 97.27 L480.22 94.22 L480.6 93.1 L480.98 93.43 L481.36 94.31 L481.74 95.39 L482.12 96.27 L482.5 96.6 L482.88 97.98 L483.26 101.61 L483.64 106.09 L484.02 109.72 L484.4 111.1 L484.75 110.77 L485.09 109.81 L485.44 108.3 L485.78 106.36 L486.13 104.15 L486.47 101.85 L486.82 99.64 L487.16 97.7 L487.51 96.19 L487.85 95.23 L488.2 94.9 L488.54 95.02 L488.88 95.35 L489.22 95.75 L489.56 96.08 L489.9 96.2 L490.26 97.11 L490.61 99.66 L490.97 103.35 L491.33 107.45 L491.69 111.14 L492.04 113.69 L492.4 114.6 L492.73 114.32 L493.07 113.48 L493.4 112.14 L493.73 110.33 L494.07 108.15 L494.4 105.69 L494.73 103.05 L495.07 100.35 L495.4 97.71 L495.73 95.25 L496.07 93.07 L496.4 91.26 L496.73 89.92 L497.07 89.08 L497.4 88.8 L497.74 89.4 L498.08 91.17 L498.42 93.98 L498.77 97.65 L499.11 101.92 L499.45 106.5 L499.79 111.08 L500.13 115.35 L500.48 119.02 L500.82 121.83 L501.16 123.6 L501.5 124.2 L501.86 123.36 L502.22 120.9 L502.57 116.99 L502.93 111.9 L503.29 105.97 L503.65 99.6 L504.01 93.23 L504.37 87.3 L504.73 82.21 L505.08 78.3 L505.44 75.84 L505.8 75 L506.16 76.18 L506.52 79.64 L506.88 85.13 L507.23 92.3 L507.59 100.64 L507.95 109.6 L508.31 118.56 L508.67 126.9 L509.03 134.07 L509.38 139.56 L509.74 143.02 L510.1 144.2 L510.45 142.28 L510.81 136.69 L511.16 127.87 L511.52 116.55 L511.87 103.63 L512.23 90.17 L512.58 77.25 L512.94 65.93 L513.29 57.11 L513.65 51.52 L514 49.6 L514.33 51.55 L514.67 57.28 L515 66.4 L515.33 78.28 L515.67 92.11 L516 106.95 L516.33 121.79 L516.67 135.62 L517 147.5 L517.33 156.62 L517.67 162.35 L518 164.3 L518.35 161.63 L518.69 153.84 L519.04 141.56 L519.38 125.78 L519.73 107.78 L520.07 89.02 L520.42 71.02 L520.76 55.24 L521.11 42.96 L521.45 35.17 L521.8 32.5 L522.15 36.07 L522.5 46.43 L522.85 62.57 L523.2 82.91 L523.55 105.45 L523.9 127.99 L524.25 148.33 L524.6 164.47 L524.95 174.83 L525.3 178.4 L525.65 175.17 L526.01 165.76 L526.36 150.91 L526.72 131.84 L527.07 110.09 L527.43 87.41 L527.78 65.66 L528.14 46.59 L528.49 31.74 L528.85 22.33 L529.2 19.1 L529.54 24.03 L529.89 38.23 L530.23 59.97 L530.58 86.65 L530.92 115.05 L531.27 141.72 L531.61 163.47 L531.96 177.67 L532.3 182.6 L532.65 178.51 L533 166.62 L533.35 148.12 L533.7 124.8 L534.05 98.95 L534.4 73.1 L534.75 49.78 L535.1 31.28 L535.45 19.39 L535.8 15.3 L536.13 20.37 L536.47 34.95 L536.8 57.3 L537.13 84.71 L537.47 113.89 L537.8 141.3 L538.13 163.65 L538.47 178.23 L538.8 183.3 L539.14 178.23 L539.49 163.62 L539.83 141.25 L540.18 113.8 L540.52 84.6 L540.87 57.15 L541.21 34.78 L541.56 20.17 L541.9 15.1 L542.23 20.05 L542.57 34.3 L542.9 56.12 L543.23 82.9 L543.57 111.4 L543.9 138.17 L544.23 160 L544.57 174.25 L544.9 179.2 L545.27 171.7 L545.64 150.7 L546.01 120.34 L546.39 86.66 L546.76 56.3 L547.13 35.3 L547.5 27.8 L547.86 32.16 L548.21 44.7 L548.57 63.92 L548.92 87.5 L549.28 112.6 L549.63 136.17 L549.99 155.4 L550.34 167.94 L550.7 172.3 L551.07 166.08 L551.44 148.66 L551.81 123.47 L552.19 95.53 L552.56 70.34 L552.93 52.92 L553.3 46.7 L553.66 50.58 L554.02 61.62 L554.39 78.15 L554.75 97.65 L555.11 117.15 L555.48 133.68 L555.84 144.72 L556.2 148.6 L556.55 145.28 L556.9 135.82 L557.25 121.65 L557.6 104.95 L557.95 88.25 L558.3 74.08 L558.65 64.62 L559 61.3 L559.33 63.38 L559.67 69.36 L560 78.52 L560.33 89.77 L560.67 101.73 L561 112.97 L561.33 122.14 L561.67 128.12 L562 130.2 L562.33 128.6 L562.67 124 L563 116.95 L563.33 108.3 L563.67 99.1 L564 90.45 L564.33 83.4 L564.67 78.8 L565 77.2 L565.35 78.82 L565.7 83.44 L566.05 90.35 L566.4 98.5 L566.75 106.65 L567.1 113.56 L567.45 118.18 L567.8 119.8 L568.16 118.85 L568.51 116.1 L568.87 111.9 L569.22 106.74 L569.58 101.26 L569.93 96.1 L570.29 91.9 L570.64 89.15 L571 88.2 L571.37 89.69 L571.73 93.78 L572.1 99.35 L572.47 104.92 L572.83 109.01 L573.2 110.5 L573.55 110.14 L573.89 109.07 L574.24 107.39 L574.58 105.24 L574.93 102.78 L575.27 100.22 L575.62 97.76 L575.96 95.61 L576.31 93.93 L576.65 92.86 L577 92.5 L577.37 93.42 L577.74 95.98 L578.11 99.69 L578.49 103.81 L578.86 107.52 L579.23 110.08 L579.6 111 L579.94 110.72 L580.28 109.91 L580.62 108.63 L580.97 106.95 L581.31 105 L581.65 102.9 L581.99 100.8 L582.33 98.85 L582.68 97.17 L583.02 95.89 L583.36 95.08 L583.7 94.8 L584.07 95.31 L584.44 96.72 L584.81 98.77 L585.19 101.03 L585.56 103.08 L585.93 104.49 L586.3 105 L586.68 104.32 L587.07 102.45 L587.45 99.9 L587.83 97.35 L588.22 95.48 L588.6 94.8 L588.95 94.92 L589.3 95.28 L589.65 95.86 L590 96.63 L590.35 97.55 L590.7 98.57 L591.05 99.65 L591.4 100.73 L591.75 101.75 L592.1 102.67 L592.45 103.44 L592.8 104.02 L593.15 104.38 L593.5 104.5 L593.87 103.94 L594.24 102.35 L594.61 100.07 L594.99 97.53 L595.36 95.25 L595.73 93.66 L596.1 93.1 L596.44 93.38 L596.79 94.15 L597.13 95.28 L597.47 96.52 L597.81 97.65 L598.16 98.42 L598.5 98.7 L598.87 98.7 L599.24 98.7 L599.61 98.7 L599.99 98.7 L600.36 98.7 L600.73 98.7 L601.1 98.7 L601.43 98.39 L601.77 97.53 L602.1 96.35 L602.43 95.17 L602.77 94.31 L603.1 94 L603.45 94.12 L603.79 94.48 L604.14 95.05 L604.48 95.78 L604.83 96.62 L605.17 97.48 L605.52 98.32 L605.86 99.05 L606.21 99.62 L606.55 99.98 L606.9 100.1 L607.26 99.6 L607.62 98.3 L607.98 96.7 L608.34 95.4 L608.7 94.9 L609.08 94.9 L609.47 94.9 L609.85 94.9 L610.23 94.9 L610.62 94.9 L611 94.9 L611.36 95.6 L611.72 97.42 L612.08 99.68 L612.44 101.5 L612.8 102.2 L613.14 102.03 L613.48 101.58 L613.82 101.02 L614.16 100.57 L614.5 100.4 L614.85 100.13 L615.2 99.4 L615.55 98.4 L615.9 97.4 L616.25 96.67 L616.6 96.4 L616.94 97.23 L617.28 99.41 L617.62 102.09 L617.96 104.27 L618.3 105.1 L618.65 104.87 L618.99 104.2 L619.34 103.13 L619.68 101.77 L620.03 100.21 L620.37 98.59 L620.72 97.03 L621.06 95.67 L621.41 94.6 L621.75 93.93 L622.1 93.7 L622.44 93.82 L622.79 94.15 L623.13 94.63 L623.47 95.17 L623.81 95.65 L624.16 95.98 L624.5 96.1 L624.83 96.23 L625.17 96.6 L625.5 97.1 L625.83 97.6 L626.17 97.97 L626.5 98.1 L626.88 97.99 L627.27 97.67 L627.65 97.25 L628.03 96.83 L628.42 96.51 L628.8 96.4 L629.14 96.21 L629.49 95.68 L629.83 94.92 L630.17 94.08 L630.51 93.32 L630.86 92.79 L631.2 92.6 L631.57 93.01 L631.94 94.14 L632.31 95.79 L632.69 97.61 L633.06 99.26 L633.43 100.39 L633.8 100.8 L634.14 100.77 L634.49 100.69 L634.83 100.57 L635.17 100.43 L635.51 100.31 L635.86 100.23 L636.2 100.2 L636.53 100.06 L636.87 99.67 L637.2 99.15 L637.53 98.62 L637.87 98.24 L638.2 98.1 L638.56 98.27 L638.92 98.72 L639.28 99.28 L639.64 99.73 L640 99.9 L640.33 99.51 L640.67 98.45 L641 97 L641.33 95.55 L641.67 94.49 L642 94.1 L642.38 94.14 L642.75 94.25 L643.12 94.36 L643.5 94.4 L643.84 93.84 L644.18 92.36 L644.52 90.54 L644.86 89.06 L645.2 88.5 L645.55 89.32 L645.9 91.58 L646.25 94.65 L646.6 97.72 L646.95 99.98 L647.3 100.8 L647.64 100.41 L647.98 99.38 L648.32 98.12 L648.66 97.09 L649 96.7 L649.35 96.51 L649.7 95.98 L650.05 95.25 L650.4 94.53 L650.75 93.99 L651.1 93.8 L651.46 94.1 L651.83 94.94 L652.19 96.21 L652.55 97.7 L652.91 99.19 L653.27 100.46 L653.64 101.3 L654 101.6 L654.37 101.15 L654.74 99.91 L655.11 98.1 L655.49 96.1 L655.86 94.29 L656.23 93.05 L656.6 92.6 L656.96 92.6 L657.32 92.6 L657.68 92.6 L658.04 92.6 L658.4 92.6 L658.74 92.91 L659.08 93.71 L659.42 94.69 L659.76 95.49 L660.1 95.8 L660.47 95.84 L660.84 95.97 L661.21 96.15 L661.59 96.35 L661.96 96.53 L662.33 96.66 L662.7 96.7 L663.04 96.47 L663.39 95.82 L663.73 94.87 L664.07 93.83 L664.41 92.88 L664.76 92.23 L665.1 92" fill="none" stroke="#a11ec8" stroke-width="2.5" stroke-linejoin="round"/>
<text x="395" y="19.7" font-size="14.3" text-anchor="end" fill="#000" font-weight="normal" >1</text>
<text x="396.3" y="104.3" font-size="14.3" text-anchor="end" fill="#000" font-weight="normal" >0</text>
<text x="396.3" y="187.9" font-size="14.3" text-anchor="end" fill="#000" font-weight="normal" >−1</text>
<text x="404.4" y="203.6" font-size="14.3" text-anchor="middle" fill="#000" font-weight="normal" >−100</text>
<text x="535.6" y="203.6" font-size="14.3" text-anchor="middle" fill="#000" font-weight="normal" >0</text>
<text x="666.4" y="203.6" font-size="14.3" text-anchor="middle" fill="#000" font-weight="normal" >100</text>
<text x="535.4" y="226.4" font-size="14.85" text-anchor="middle" fill="#000" font-weight="normal" >Time (ns)</text>
<text transform="translate(364.8 146.9) rotate(-90)" font-size="14.9" fill="#000" text-anchor="start">Intensity (a.u.)</text>
<text x="351.5" y="15.5" font-size="22" text-anchor="start" fill="#000" font-weight="bold" >b</text>
<path d="M36.7 468.2 L36.7 433.64 L37.95 433.64 L37.95 437.16 L39.2 437.16 L39.2 433.97 L40.45 433.97 L40.45 431.48 L41.7 431.48 L41.7 434.79 L42.95 434.79 L42.95 430.7 L44.2 430.7 L44.2 430.63 L45.45 430.63 L45.45 427.22 L46.7 427.22 L46.7 437.12 L47.95 437.12 L47.95 434.45 L49.2 434.45 L49.2 429.88 L50.45 429.88 L50.45 430.23 L51.7 430.23 L51.7 426.38 L52.95 426.38 L52.95 433.31 L54.2 433.31 L54.2 434.01 L55.45 434.01 L55.45 433.97 L56.7 433.97 L56.7 433.75 L57.95 433.75 L57.95 437.96 L59.2 437.96 L59.2 436.88 L60.45 436.88 L60.45 433 L61.7 433 L61.7 426.12 L62.95 426.12 L62.95 434.58 L64.2 434.58 L64.2 435.04 L65.45 435.04 L65.45 434.06 L66.7 434.06 L66.7 438.09 L67.95 438.09 L67.95 438.12 L69.2 438.12 L69.2 430.75 L70.45 430.75 L70.45 435.59 L71.7 435.59 L71.7 429.92 L72.95 429.92 L72.95 435.97 L74.2 435.97 L74.2 429.08 L75.45 429.08 L75.45 421.37 L76.7 421.37 L76.7 428.31 L77.95 428.31 L77.95 429.65 L79.2 429.65 L79.2 431.06 L80.45 431.06 L80.45 429.76 L81.7 429.76 L81.7 427.47 L82.95 427.47 L82.95 425.71 L84.2 425.71 L84.2 428.69 L85.45 428.69 L85.45 428.51 L86.7 428.51 L86.7 424.46 L87.95 424.46 L87.95 425.15 L89.2 425.15 L89.2 426.39 L90.45 426.39 L90.45 420.56 L91.7 420.56 L91.7 419.99 L92.95 419.99 L92.95 417.36 L94.2 417.36 L94.2 419.31 L95.45 419.31 L95.45 418.16 L96.7 418.16 L96.7 416.02 L97.95 416.02 L97.95 414.95 L99.2 414.95 L99.2 415.64 L100.45 415.64 L100.45 408.85 L101.7 408.85 L101.7 409.58 L102.95 409.58 L102.95 403.58 L104.2 403.58 L104.2 406.17 L105.45 406.17 L105.45 405.18 L106.7 405.18 L106.7 402.52 L107.95 402.52 L107.95 391.42 L109.2 391.42 L109.2 398.63 L110.45 398.63 L110.45 397.5 L111.7 397.5 L111.7 397.71 L112.95 397.71 L112.95 394.71 L114.2 394.71 L114.2 392.84 L115.45 392.84 L115.45 393.29 L116.7 393.29 L116.7 391.98 L117.95 391.98 L117.95 391.55 L119.2 391.55 L119.2 386.02 L120.45 386.02 L120.45 381.12 L121.7 381.12 L121.7 382.33 L122.95 382.33 L122.95 379.26 L124.2 379.26 L124.2 378.75 L125.45 378.75 L125.45 376.77 L126.7 376.77 L126.7 375.71 L127.95 375.71 L127.95 373.62 L129.2 373.62 L129.2 374.67 L130.45 374.67 L130.45 373.84 L131.7 373.84 L131.7 372.07 L132.95 372.07 L132.95 371.23 L134.2 371.23 L134.2 370.77 L135.45 370.77 L135.45 370.2 L136.7 370.2 L136.7 371.69 L137.95 371.69 L137.95 371.97 L139.2 371.97 L139.2 372.77 L140.45 372.77 L140.45 371.82 L141.7 371.82 L141.7 371.78 L142.95 371.78 L142.95 371.16 L144.2 371.16 L144.2 370.23 L145.45 370.23 L145.45 369.37 L146.7 369.37 L146.7 369.42 L147.95 369.42 L147.95 369.04 L149.2 369.04 L149.2 369.12 L150.45 369.12 L150.45 367.59 L151.7 367.59 L151.7 367.57 L152.95 367.57 L152.95 367.68 L154.2 367.68 L154.2 366.94 L155.45 366.94 L155.45 366.07 L156.7 366.07 L156.7 364.71 L157.95 364.71 L157.95 364.75 L159.2 364.75 L159.2 365.14 L160.45 365.14 L160.45 362.59 L161.7 362.59 L161.7 363.51 L162.95 363.51 L162.95 361.85 L164.2 361.85 L164.2 362.38 L165.45 362.38 L165.45 362.35 L166.7 362.35 L166.7 361.31 L167.95 361.31 L167.95 360.03 L169.2 360.03 L169.2 360.3 L170.45 360.3 L170.45 358.35 L171.7 358.35 L171.7 357.42 L172.95 357.42 L172.95 357.03 L174.2 357.03 L174.2 356.79 L175.45 356.79 L175.45 355.54 L176.7 355.54 L176.7 352.34 L177.95 352.34 L177.95 351.1 L179.2 351.1 L179.2 350.77 L180.45 350.77 L180.45 350.53 L181.7 350.53 L181.7 350.87 L182.95 350.87 L182.95 349.6 L184.2 349.6 L184.2 348.25 L185.45 348.25 L185.45 347.86 L186.7 347.86 L186.7 348.6 L187.95 348.6 L187.95 348.67 L189.2 348.67 L189.2 346.8 L190.45 346.8 L190.45 346.14 L191.7 346.14 L191.7 346.01 L192.95 346.01 L192.95 344.6 L194.2 344.6 L194.2 344.5 L195.45 344.5 L195.45 343.97 L196.7 343.97 L196.7 343.76 L197.95 343.76 L197.95 341.8 L199.2 341.8 L199.2 341.46 L200.45 341.46 L200.45 341.81 L201.7 341.81 L201.7 340.87 L202.95 340.87 L202.95 340.94 L204.2 340.94 L204.2 341.03 L205.45 341.03 L205.45 341.25 L206.7 341.25 L206.7 341.04 L207.95 341.04 L207.95 339.19 L209.2 339.19 L209.2 340.29 L210.45 340.29 L210.45 339.39 L211.7 339.39 L211.7 340.08 L212.95 340.08 L212.95 339.01 L214.2 339.01 L214.2 339.2 L215.45 339.2 L215.45 338.16 L216.7 338.16 L216.7 337.28 L217.95 337.28 L217.95 338.31 L219.2 338.31 L219.2 337.78 L220.45 337.78 L220.45 337.87 L221.7 337.87 L221.7 337.73 L222.95 337.73 L222.95 337.08 L224.2 337.08 L224.2 337.64 L225.45 337.64 L225.45 336.71 L226.7 336.71 L226.7 337.22 L227.95 337.22 L227.95 338.24 L229.2 338.24 L229.2 336.92 L230.45 336.92 L230.45 337.34 L231.7 337.34 L231.7 337.96 L232.95 337.96 L232.95 339.7 L234.2 339.7 L234.2 338.68 L235.45 338.68 L235.45 340.33 L236.7 340.33 L236.7 340.63 L237.95 340.63 L237.95 340.58 L239.2 340.58 L239.2 340.37 L240.45 340.37 L240.45 342.34 L241.7 342.34 L241.7 343.78 L242.95 343.78 L242.95 344.33 L244.2 344.33 L244.2 345.41 L245.45 345.41 L245.45 346.02 L246.7 346.02 L246.7 348.38 L247.95 348.38 L247.95 349.52 L249.2 349.52 L249.2 350.05 L250.45 350.05 L250.45 350.59 L251.7 350.59 L251.7 352.51 L252.95 352.51 L252.95 352.71 L254.2 352.71 L254.2 355.3 L255.45 355.3 L255.45 357.5 L256.7 357.5 L256.7 358.39 L257.95 358.39 L257.95 359.03 L259.2 359.03 L259.2 362.09 L260.45 362.09 L260.45 365.69 L261.7 365.69 L261.7 367.17 L262.95 367.17 L262.95 369.56 L264.2 369.56 L264.2 373.55 L265.45 373.55 L265.45 375.4 L266.7 375.4 L266.7 379.27 L267.95 379.27 L267.95 381.06 L269.2 381.06 L269.2 383.75 L270.45 383.75 L270.45 387.42 L271.7 387.42 L271.7 390.81 L272.95 390.81 L272.95 395.06 L274.2 395.06 L274.2 398.08 L275.45 398.08 L275.45 399.35 L276.7 399.35 L276.7 400.11 L277.95 400.11 L277.95 403.4 L279.2 403.4 L279.2 405.06 L280.45 405.06 L280.45 405.29 L281.7 405.29 L281.7 409.27 L282.95 409.27 L282.95 410.28 L284.2 410.28 L284.2 412.3 L285.45 412.3 L285.45 411.74 L286.7 411.74 L286.7 416.64 L287.95 416.64 L287.95 415.31 L289.2 415.31 L289.2 420.55 L290.45 420.55 L290.45 422.62 L291.7 422.62 L291.7 418.72 L292.95 418.72 L292.95 424.08 L294.2 424.08 L294.2 421.03 L295.45 421.03 L295.45 423.81 L296.7 423.81 L296.7 422.45 L297.95 422.45 L297.95 422.86 L299.2 422.86 L299.2 427.49 L300.45 427.49 L300.45 430.11 L301.7 430.11 L301.7 428.23 L302.95 428.23 L302.95 430.29 L304.2 430.29 L304.2 426.5 L305.45 426.5 L305.45 431.2 L306.7 431.2 L306.7 437.64 L307.95 437.64 L307.95 437.44 L309.2 437.44 L309.2 440.63 L310.45 440.63 L310.45 449.16 L311.7 449.16 L311.7 433.92 L312.95 433.92 L312.95 445.01 L314.2 445.01 L314.2 444.03 L315.45 444.03 L315.45 445.84 L316.7 445.84 L316.7 440.26 L317.95 440.26 L317.95 449.06 L319.2 449.06 L319.2 445.75 L320.45 445.75 L320.45 445.17 L321.7 445.17 L321.7 442.93 L322.95 442.93 L322.95 441.49 L324.2 441.49 L324.2 448.1 L325.45 448.1 L325.45 448.44 L326.7 448.44 L326.7 444.36 L327.95 444.36 L327.95 445.06 L329.2 445.06 L329.2 447.51 L330.45 447.51 L330.45 448.42 L331.7 448.42 L331.7 447.28 L332.95 447.28 L332.95 444.09 L334.2 444.09 L334.2 448.15 L335.45 448.15 L335.45 447.19 L336.7 447.19 L336.7 444.09 L337.95 444.09 L337.95 441.23 L339.2 441.23 L339.2 468.2 Z" fill="#ff8c00"/>
<rect x="58.6" y="419.6" width="1.4" height="15.7" fill="#ff8c00"/>
<rect x="75.5" y="417.7" width="1.4" height="14.2" fill="#ff8c00"/>
<rect x="81.9" y="414.8" width="1.4" height="13.71" fill="#ff8c00"/>
<rect x="108.1" y="390.9" width="1.4" height="10.3" fill="#ff8c00"/>
<rect x="114.9" y="388.2" width="1.4" height="5.68" fill="#ff8c00"/>
<rect x="281.5" y="409.5" width="1.4" height="0.69" fill="#ff8c00"/>
<rect x="310.5" y="439.8" width="1.4" height="6.28" fill="#ff8c00"/>
<rect x="320.6" y="439.8" width="1.4" height="7.08" fill="#ff8c00"/>
<rect x="326.9" y="436.1" width="1.4" height="9.97" fill="#ff8c00"/>
<rect x="333.3" y="439.8" width="1.4" height="6.1" fill="#ff8c00"/>
<path d="M230 468 L230 327 L236.8 327 L236.8 468" fill="none" stroke="#000" stroke-width="1.7" stroke-dasharray="6.6 4.98" stroke-dashoffset="7.2"/>
<line x1="36.7" y1="302.2" x2="36.7" y2="469.3" stroke="#000" stroke-width="2.1"/>
<line x1="339.2" y1="302.2" x2="339.2" y2="469.3" stroke="#000" stroke-width="2.1"/>
<line x1="35.7" y1="468.2" x2="340.2" y2="468.2" stroke="#000" stroke-width="2.1"/>
<line x1="35.7" y1="303.3" x2="340.2" y2="303.3" stroke="#0a960a" stroke-width="2.1"/>
<line x1="36.7" y1="344.5" x2="40.7" y2="344.5" stroke="#000" stroke-width="1.8"/>
<line x1="339.2" y1="344.5" x2="335.2" y2="344.5" stroke="#000" stroke-width="1.8"/>
<line x1="36.7" y1="386" x2="40.7" y2="386" stroke="#000" stroke-width="1.8"/>
<line x1="339.2" y1="386" x2="335.2" y2="386" stroke="#000" stroke-width="1.8"/>
<line x1="36.7" y1="427.3" x2="40.7" y2="427.3" stroke="#000" stroke-width="1.8"/>
<line x1="339.2" y1="427.3" x2="335.2" y2="427.3" stroke="#000" stroke-width="1.8"/>
<line x1="188" y1="468.2" x2="188" y2="465.2" stroke="#000" stroke-width="1.6"/>
<line x1="188" y1="303.3" x2="188" y2="306.3" stroke="#0a960a" stroke-width="1.6"/>
<text x="-1" y="263.5" font-size="22" text-anchor="start" fill="#000" font-weight="bold" >c</text>
<text x="188" y="269.1" font-size="14.85" text-anchor="middle" fill="#0a960a" font-weight="normal" >Optical frequency (THz)</text>
<text x="35.8" y="295.2" font-size="14.3" text-anchor="middle" fill="#0a960a" font-weight="normal" >281.51</text>
<text x="187.5" y="295.2" font-size="14.3" text-anchor="middle" fill="#0a960a" font-weight="normal" >282.43</text>
<text x="339.5" y="295.2" font-size="14.3" text-anchor="middle" fill="#0a960a" font-weight="normal" >283.35</text>
<text x="36.3" y="487.6" font-size="14.3" text-anchor="middle" fill="#000" font-weight="normal" >50</text>
<text x="188" y="487.6" font-size="14.3" text-anchor="middle" fill="#000" font-weight="normal" >175</text>
<text x="339.2" y="487.6" font-size="14.3" text-anchor="middle" fill="#000" font-weight="normal" >300</text>
<text x="188" y="511.2" font-size="14.85" text-anchor="middle" fill="#000" font-weight="normal" >Radio frequency (MHz)</text>
<text transform="translate(24.5 446.8) rotate(-90)" font-size="14.25" fill="#000" text-anchor="start">Intensity (5 dB·div<tspan font-size="10.9" dy="-5.8">−1</tspan><tspan dy="5.8" dx="2.2">)</tspan></text>
<path d="M459.8 340 L461.2 340 L461.85 468.1 L459.15 468.1 Z" fill="#ff8c00"/>
<path d="M479.8 340.6 L481.2 340.6 L481.85 468.1 L479.15 468.1 Z" fill="#ff8c00"/>
<path d="M499.5 341.7 L500.9 341.7 L501.55 468.1 L498.85 468.1 Z" fill="#ff8c00"/>
<path d="M519.4 339.1 L520.8 339.1 L521.45 468.1 L518.75 468.1 Z" fill="#ff8c00"/>
<path d="M538.9 342.4 L540.3 342.4 L540.95 468.1 L538.25 468.1 Z" fill="#ff8c00"/>
<path d="M558.7 341.9 L560.1 341.9 L560.75 468.1 L558.05 468.1 Z" fill="#ff8c00"/>
<path d="M578.6 341.9 L580 341.9 L580.65 468.1 L577.95 468.1 Z" fill="#ff8c00"/>
<path d="M598.4 340.2 L599.8 340.2 L600.45 468.1 L597.75 468.1 Z" fill="#ff8c00"/>
<path d="M618.1 341 L619.5 341 L620.15 468.1 L617.45 468.1 Z" fill="#ff8c00"/>
<path d="M638 341 L639.4 341 L640.05 468.1 L637.35 468.1 Z" fill="#ff8c00"/>
<path d="M657.8 348.1 L659.2 348.1 L659.85 468.1 L657.15 468.1 Z" fill="#ff8c00"/>
<line x1="456.0" y1="302.7" x2="456.0" y2="469.20000000000005" stroke="#000" stroke-width="2.1"/>
<line x1="662.3" y1="302.7" x2="662.3" y2="469.20000000000005" stroke="#000" stroke-width="2.1"/>
<line x1="455.0" y1="468.1" x2="663.3" y2="468.1" stroke="#000" stroke-width="2.1"/>
<line x1="455.0" y1="303.8" x2="663.3" y2="303.8" stroke="#0a960a" stroke-width="2.1"/>
<line x1="456.0" y1="358.6" x2="460.0" y2="358.6" stroke="#000" stroke-width="1.8"/>
<line x1="662.3" y1="358.6" x2="658.3" y2="358.6" stroke="#000" stroke-width="1.8"/>
<line x1="456.0" y1="413.6" x2="460.0" y2="413.6" stroke="#000" stroke-width="1.8"/>
<line x1="662.3" y1="413.6" x2="658.3" y2="413.6" stroke="#000" stroke-width="1.8"/>
<line x1="559.5" y1="468.1" x2="559.5" y2="465.1" stroke="#000" stroke-width="1.6"/>
<line x1="559.5" y1="303.8" x2="559.5" y2="306.8" stroke="#0a960a" stroke-width="1.6"/>
<rect x="601.8" y="338.5" width="45.6" height="19.9" fill="#fff" stroke="#f2f2f2" stroke-width="0.6"/>
<rect x="505" y="361.7" width="50" height="21.3" fill="#fff" fill-opacity="0.7"/>
<text x="500" y="329.8" font-size="12.5" text-anchor="start" fill="#0a960a" font-weight="normal" >1.093 GHz</text>
<text x="507" y="377.2" font-size="12.5" text-anchor="start" fill="#1a1a1a" font-weight="normal" >148 kHz</text>
<path d="M521 347.7 L538.5 347.7 M528.2 343.8 L520.9 347.7 L528.2 351.6 M531.2 343.8 L538.5 347.7 L531.2 351.6" fill="none" stroke="#1a1a1a" stroke-width="1.25" stroke-linejoin="miter"/>
<path d="M586 322.5 Q605 323.8 609.8 337.6" fill="none" stroke="#111" stroke-width="1.6"/>
<path d="M607.6 359.2 Q602 368.5 585.6 369.6" fill="none" stroke="#111" stroke-width="1.6"/>
<path d="M591.2 365.6 L585.4 369.6 L591.8 374.2" fill="none" stroke="#111" stroke-width="1.6"/>
<rect x="604.8" y="347.6" width="11.4" height="3" fill="#000"/>
<rect x="609.4" y="343.8" width="2.7" height="2.7" fill="#000"/>
<rect x="609.4" y="351.9" width="2.7" height="2.8" fill="#000"/>
<line x1="623.4" y1="348.05" x2="642.4" y2="348.05" stroke="#000" stroke-width="1.7"/>
<text x="630.2" y="344.8" font-size="12" font-style="italic" font-weight="bold" fill="#0a960a">f</text>
<text x="625.6" y="361.2" font-size="12.6" style="font-family:Liberation Serif,serif" fill="#000" stroke="#000" stroke-width="0.25">Δ<tspan font-style="italic" dx="0.6">f</tspan></text>
<text x="410.5" y="263.5" font-size="22" text-anchor="start" fill="#000" font-weight="bold" >d</text>
<text x="559.5" y="269.1" font-size="14.85" text-anchor="middle" fill="#0a960a" font-weight="normal" >Optical frequency (THz)</text>
<text x="455.2" y="295" font-size="14.3" text-anchor="middle" fill="#0a960a" font-weight="normal" >282.61</text>
<text x="559.5" y="295" font-size="14.3" text-anchor="middle" fill="#0a960a" font-weight="normal" >282.62</text>
<text x="662.3" y="295" font-size="14.3" text-anchor="middle" fill="#0a960a" font-weight="normal" >282.63</text>
<text x="456.1" y="487.5" font-size="14.3" text-anchor="middle" fill="#000" font-weight="normal" >200</text>
<text x="559" y="487.5" font-size="14.3" text-anchor="middle" fill="#000" font-weight="normal" >200.75</text>
<text x="662.1" y="487.5" font-size="14.3" text-anchor="middle" fill="#000" font-weight="normal" >201.5</text>
<text x="559.5" y="510.5" font-size="14.85" text-anchor="middle" fill="#000" font-weight="normal" >Radio frequency (MHz)</text>
<text transform="translate(444.4 447.9) rotate(-90)" font-size="14.25" fill="#000" text-anchor="start">Intensity (4 dB·div<tspan font-size="10.9" dy="-5.8">−1</tspan><tspan dy="5.8" dx="2.2">)</tspan></text>
</svg>
</body></html>
